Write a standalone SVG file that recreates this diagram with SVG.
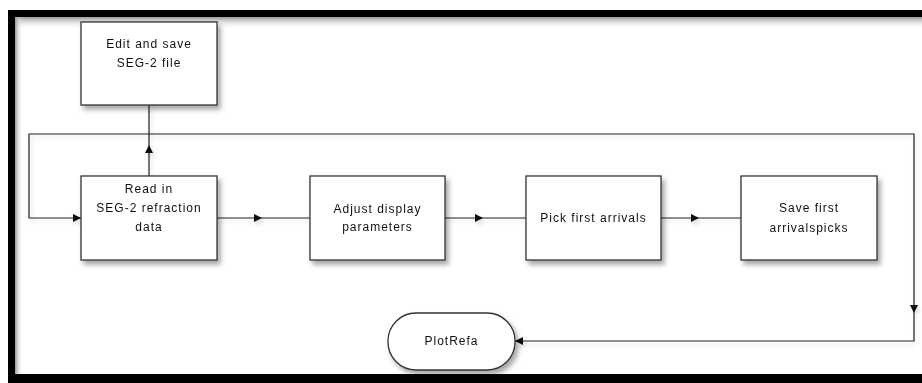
<svg xmlns="http://www.w3.org/2000/svg" width="922" height="383" viewBox="0 0 922 383">
<defs>
<style>
.box{fill:#fff;stroke:#333;stroke-width:1.3}
.t{font-family:"Liberation Sans",Arial,sans-serif;font-size:12px;letter-spacing:1px;fill:#111;text-anchor:middle}
.ln{fill:none;stroke:#222;stroke-width:1.2}
</style>
<filter id="sh" x="-10%" y="-10%" width="130%" height="140%">
<feDropShadow dx="3" dy="4" stdDeviation="2.5" flood-color="#000" flood-opacity="0.35"/>
</filter>
<filter id="lsh" x="-5%" y="-5%" width="110%" height="120%">
<feDropShadow dx="2" dy="3" stdDeviation="2" flood-color="#000" flood-opacity="0.15"/>
</filter>
<marker id="ah" markerUnits="userSpaceOnUse" markerWidth="9" markerHeight="9" refX="8" refY="4" orient="auto">
<path d="M0,0 L8,4 L0,8 z" fill="#111"/>
</marker>
<linearGradient id="gt" x1="0" y1="0" x2="0" y2="1">
<stop offset="0" stop-color="#9a9a9a"/><stop offset="1" stop-color="#fff" stop-opacity="0"/>
</linearGradient>
<linearGradient id="gl" x1="0" y1="0" x2="1" y2="0">
<stop offset="0" stop-color="#9a9a9a"/><stop offset="1" stop-color="#fff" stop-opacity="0"/>
</linearGradient>
</defs>
<rect width="922" height="383" fill="#fff"/>
<g id="frame">
<rect x="15" y="17" width="907" height="12" fill="url(#gt)"/>
<rect x="15" y="17" width="8" height="357" fill="url(#gl)"/>
<rect x="8" y="10" width="914" height="7" fill="#000"/>
<rect x="8" y="10" width="7" height="373" fill="#000"/>
<rect x="8" y="374" width="914" height="9" fill="#000"/>
</g>
<g id="connectors" filter="url(#lsh)">
<polyline class="ln" points="149,176 149,145 149,105" marker-mid="url(#ah)"/>
<polyline class="ln" points="217,218 262,218 310,218" marker-mid="url(#ah)"/>
<polyline class="ln" points="445,218 483,218 526,218" marker-mid="url(#ah)"/>
<polyline class="ln" points="661,218 699,218 741,218" marker-mid="url(#ah)"/>
<polyline class="ln" points="149,134 29,134 29,218 81,218" marker-end="url(#ah)"/>
<polyline class="ln" points="149,134 914,134 914,313" marker-end="url(#ah)"/>
<polyline class="ln" points="914,313 914,341 515,341" marker-end="url(#ah)"/>
</g>
<g id="n-edit" filter="url(#sh)">
<rect class="box" x="81" y="22" width="136" height="83"/>
<text class="t" x="149" y="48">Edit and save</text>
<text class="t" x="149" y="67">SEG-2 file</text>
</g>
<g id="n-read" filter="url(#sh)">
<rect class="box" x="81" y="176" width="136" height="84"/>
<text class="t" x="149" y="193">Read in</text>
<text class="t" x="149" y="212">SEG-2 refraction</text>
<text class="t" x="149" y="231">data</text>
</g>
<g id="n-adjust" filter="url(#sh)">
<rect class="box" x="310" y="176" width="135" height="84"/>
<text class="t" x="377.5" y="213">Adjust display</text>
<text class="t" x="377.5" y="231">parameters</text>
</g>
<g id="n-pick" filter="url(#sh)">
<rect class="box" x="526" y="176" width="135" height="84"/>
<text class="t" x="593.5" y="222">Pick first arrivals</text>
</g>
<g id="n-save" filter="url(#sh)">
<rect class="box" x="741" y="176" width="136" height="84"/>
<text class="t" x="809" y="212">Save first</text>
<text class="t" x="809" y="232">arrivalspicks</text>
</g>
<g id="n-plotrefa" filter="url(#sh)">
<rect class="box" x="388" y="313" width="127" height="57" rx="28" ry="28"/>
<text class="t" x="451.5" y="345">PlotRefa</text>
</g>
</svg>
